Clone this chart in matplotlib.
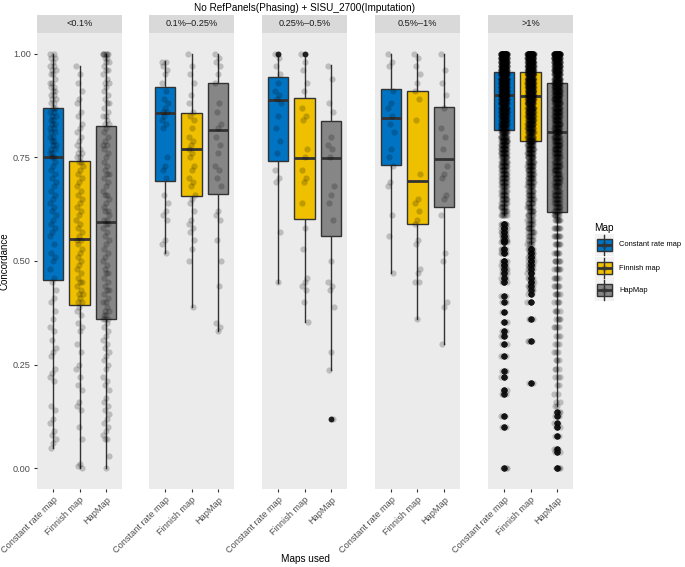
import numpy as np
import matplotlib
matplotlib.use("Agg")
import matplotlib.pyplot as plt
from matplotlib.patches import Rectangle

plt.rcParams['font.family'] = ['Liberation Sans', 'DejaVu Sans']

facets = ["<0.1%", "0.1%\u20130.25%", "0.25%\u20130.5%", "0.5%\u20131%", ">1%"]
maps = ["Constant rate map", "Finnish map", "HapMap"]
colors = ["#0073C2", "#EFC000", "#868686"]

# box stats: (median, q1, q3, whisker low, whisker high)
stats = [
    [(0.750, 0.455, 0.870, 0.05, 1.0), (0.552, 0.393, 0.742, 0.0, 0.97), (0.593, 0.359, 0.826, 0.0, 1.0)],
    [(0.858, 0.694, 0.920, 0.52, 0.983), (0.771, 0.658, 0.856, 0.39, 1.0), (0.815, 0.662, 0.930, 0.33, 1.0)],
    [(0.889, 0.742, 0.945, 0.448, 0.998), (0.749, 0.602, 0.894, 0.354, 0.995), (0.749, 0.561, 0.838, 0.236, 0.973)],
    [(0.846, 0.732, 0.916, 0.47, 1.0), (0.694, 0.590, 0.911, 0.361, 1.0), (0.747, 0.631, 0.872, 0.299, 1.0)],
    [(0.901, 0.817, 0.957, 0.61, 1.0), (0.899, 0.790, 0.957, 0.54, 1.0), (0.812, 0.617, 0.930, 0.15, 1.0)],
]

# individual points, <0.1%
p1_const = [1.0, 1.0, 0.99, 0.99, 0.98, 0.97, 0.97, 0.96, 0.96, 0.95, 0.95, 0.94, 0.93, 0.93, 0.92, 0.92, 0.91,
            0.91, 0.90, 0.90, 0.89, 0.89, 0.88, 0.88, 0.87, 0.87, 0.86, 0.86, 0.85, 0.85, 0.84, 0.84, 0.83, 0.83,
            0.82, 0.82, 0.81, 0.81, 0.80, 0.80, 0.79, 0.79, 0.78, 0.78, 0.77, 0.77, 0.76, 0.76, 0.75, 0.75, 0.74,
            0.73, 0.72, 0.71, 0.70, 0.69, 0.68, 0.67, 0.66, 0.65, 0.64, 0.63, 0.62, 0.61, 0.60, 0.59, 0.58, 0.57,
            0.56, 0.54, 0.52, 0.51, 0.50, 0.48, 0.46, 0.45, 0.43, 0.41, 0.40, 0.38, 0.36, 0.34, 0.33, 0.31, 0.29,
            0.28, 0.27, 0.24, 0.23, 0.22, 0.21, 0.15, 0.14, 0.12, 0.11, 0.09, 0.08, 0.07, 0.06, 0.05]
p1_finn = [0.97, 0.95, 0.93, 0.91, 0.89, 0.88, 0.86, 0.85, 0.83, 0.82, 0.81, 0.80, 0.79, 0.78, 0.77, 0.76, 0.76,
           0.75, 0.75, 0.74, 0.74, 0.73, 0.72, 0.71, 0.70, 0.69, 0.68, 0.67, 0.66, 0.65, 0.64, 0.63, 0.62, 0.61,
           0.60, 0.59, 0.58, 0.57, 0.56, 0.55, 0.55, 0.54, 0.53, 0.52, 0.51, 0.50, 0.49, 0.48, 0.47, 0.46, 0.45,
           0.45, 0.44, 0.43, 0.42, 0.42, 0.41, 0.40, 0.40, 0.39, 0.38, 0.37, 0.35, 0.34, 0.33, 0.30, 0.28, 0.25,
           0.24, 0.22, 0.20, 0.19, 0.16, 0.15, 0.14, 0.10, 0.07, 0.01, 0.005, 0.0]
p1_hap = [1.0, 1.0, 1.0, 1.0, 1.0, 1.0, 0.99, 0.99, 0.98, 0.98, 0.97, 0.96, 0.96, 0.95, 0.94, 0.93, 0.93, 0.92,
          0.91, 0.90, 0.89, 0.88, 0.88, 0.87, 0.86, 0.85, 0.85, 0.84, 0.83, 0.83, 0.82, 0.81, 0.80, 0.79, 0.78,
          0.78, 0.77, 0.76, 0.75, 0.74, 0.73, 0.72, 0.71, 0.71, 0.70, 0.69, 0.68, 0.67, 0.66, 0.66, 0.65, 0.64,
          0.63, 0.62, 0.62, 0.61, 0.60, 0.60, 0.59, 0.59, 0.58, 0.57, 0.56, 0.55, 0.54, 0.53, 0.52, 0.51, 0.50,
          0.49, 0.48, 0.47, 0.47, 0.46, 0.45, 0.44, 0.43, 0.43, 0.42, 0.41, 0.40, 0.40, 0.39, 0.38, 0.38, 0.37,
          0.37, 0.36, 0.36, 0.36, 0.35, 0.34, 0.33, 0.32, 0.31, 0.30, 0.29, 0.28, 0.27, 0.26, 0.25, 0.24, 0.22,
          0.21, 0.20, 0.19, 0.17, 0.16, 0.15, 0.14, 0.13, 0.12, 0.11, 0.10, 0.09, 0.08, 0.07, 0.07, 0.03, 0.0]

# 0.1%-0.25%
p2_const = [0.98, 0.98, 0.97, 0.96, 0.95, 0.93, 0.91, 0.89, 0.88, 0.87, 0.86, 0.86, 0.85, 0.84, 0.83, 0.82,
            0.75, 0.73, 0.72, 0.70, 0.66, 0.64, 0.62, 0.61, 0.60, 0.55, 0.54, 0.52]
p2_finn = [1.0, 0.97, 0.95, 0.93, 0.90, 0.88, 0.86, 0.85, 0.84, 0.82, 0.80, 0.79, 0.78, 0.77, 0.76, 0.75, 0.73,
           0.72, 0.70, 0.69, 0.68, 0.66, 0.65, 0.64, 0.62, 0.60, 0.59, 0.58, 0.57, 0.55, 0.53, 0.50, 0.39]
p2_hap = [1.0, 0.99, 0.98, 0.97, 0.95, 0.93, 0.88, 0.86, 0.83, 0.82, 0.80, 0.78, 0.76, 0.73, 0.72, 0.70, 0.68,
          0.62, 0.61, 0.60, 0.55, 0.50, 0.44, 0.35, 0.34, 0.33]

# 0.25%-0.5%
p3_const = [1.0, 0.99, 0.97, 0.95, 0.93, 0.91, 0.90, 0.89, 0.88, 0.85, 0.82, 0.79, 0.76, 0.72, 0.70, 0.69,
            0.57, 0.45]
p3_finn = [1.0, 0.98, 0.96, 0.93, 0.91, 0.87, 0.85, 0.84, 0.77, 0.75, 0.72, 0.70, 0.69, 0.64, 0.58, 0.53, 0.46,
           0.45, 0.44, 0.43, 0.40, 0.354]
p3_hap = [0.97, 0.94, 0.88, 0.86, 0.80, 0.78, 0.77, 0.75, 0.68, 0.66, 0.64, 0.60, 0.50, 0.45, 0.44, 0.43, 0.39,
          0.28, 0.236, 0.118]

# 0.5%-1%
p4_const = [1.0, 0.98, 0.97, 0.91, 0.88, 0.87, 0.85, 0.83, 0.81, 0.77, 0.75, 0.73, 0.69, 0.68, 0.61, 0.56, 0.47]
p4_finn = [1.0, 0.99, 0.97, 0.95, 0.93, 0.91, 0.89, 0.84, 0.71, 0.65, 0.64, 0.62, 0.60, 0.59, 0.55, 0.54, 0.48,
           0.47, 0.45, 0.45, 0.361]
p4_hap = [1.0, 0.96, 0.93, 0.90, 0.87, 0.82, 0.80, 0.77, 0.73, 0.71, 0.70, 0.66, 0.65, 0.61, 0.52, 0.50, 0.40,
          0.39, 0.299]

# >1%: too many points to list one by one, so value + how many points sit there
p5_const_vals = [1.00, 0.99, 0.98, 0.97, 0.96, 0.95, 0.94, 0.93, 0.92, 0.91, 0.90, 0.89, 0.88, 0.87, 0.86, 0.85,
                 0.84, 0.83, 0.82, 0.81, 0.80, 0.79, 0.78, 0.77, 0.76, 0.75, 0.74, 0.73, 0.72, 0.71, 0.70, 0.69,
                 0.68, 0.67, 0.66, 0.65, 0.64, 0.63, 0.62, 0.61,
                 0.59, 0.58, 0.57, 0.56, 0.55, 0.545, 0.53, 0.52, 0.50, 0.49, 0.48, 0.47, 0.46, 0.45, 0.415,
                 0.40, 0.376, 0.354, 0.33, 0.318, 0.30, 0.27, 0.234, 0.22, 0.19, 0.178, 0.125, 0.10, 0.0]
p5_const_cnt = [60, 40, 40, 40, 40, 38, 36, 35, 34, 33, 32, 30, 28, 26, 24, 22, 20, 20, 18, 18, 16, 16, 14, 14,
                13, 12, 12, 11, 10, 10, 10, 9, 9, 8, 8, 8, 7, 7, 7, 6,
                6, 6, 5, 5, 5, 5, 5, 5, 5, 5, 4, 4, 4, 4, 3, 3, 3, 3, 3, 3, 3, 3, 3, 3, 3, 3, 3, 3, 3]
p5_finn_vals = [1.00, 0.99, 0.98, 0.97, 0.96, 0.95, 0.94, 0.93, 0.92, 0.91, 0.90, 0.89, 0.88, 0.87, 0.86, 0.85,
                0.84, 0.83, 0.82, 0.81, 0.80, 0.79, 0.78, 0.77, 0.76, 0.75, 0.74, 0.73, 0.72, 0.71, 0.70, 0.69,
                0.68, 0.67, 0.66, 0.65, 0.64, 0.63, 0.62, 0.61, 0.60, 0.59, 0.58, 0.57, 0.56, 0.55, 0.54,
                0.53, 0.52, 0.51, 0.50, 0.49, 0.48, 0.47, 0.46, 0.45, 0.44, 0.43, 0.42, 0.40, 0.36, 0.306, 0.205]
p5_finn_cnt = [60, 40, 40, 40, 40, 38, 36, 35, 34, 33, 32, 30, 28, 26, 24, 22, 20, 20, 18, 18, 16, 16, 14, 14,
               13, 12, 12, 11, 10, 10, 10, 9, 9, 8, 8, 8, 7, 7, 7, 6, 6, 6, 6, 6, 5, 5, 5,
               5, 5, 5, 5, 5, 4, 4, 4, 4, 4, 3, 3, 3, 3, 3, 3]
p5_hap_vals = [1.00, 0.99, 0.98, 0.97, 0.96, 0.95, 0.94, 0.93, 0.92, 0.91, 0.90, 0.89, 0.88, 0.87, 0.86, 0.85,
               0.84, 0.83, 0.82, 0.81, 0.80, 0.79, 0.78, 0.77, 0.76, 0.75, 0.74, 0.73, 0.72, 0.71, 0.70, 0.69,
               0.68, 0.67, 0.66, 0.65, 0.64, 0.63, 0.62, 0.61, 0.60, 0.58, 0.56, 0.54, 0.52, 0.50, 0.48, 0.46,
               0.44, 0.42, 0.40, 0.38, 0.36, 0.34, 0.32, 0.30, 0.28, 0.26, 0.24, 0.22, 0.20, 0.18, 0.16, 0.15,
               0.135, 0.125, 0.11, 0.10, 0.077, 0.046, 0.04, 0.0]
p5_hap_cnt = [60, 35, 30, 28, 28, 26, 25, 24, 22, 21, 20, 19, 18, 17, 16, 15, 15, 14, 14, 13, 13, 12, 12, 12,
              11, 11, 10, 10, 10, 9, 9, 9, 9, 8, 8, 8, 8, 7, 7, 7, 7, 7, 7, 6, 6, 6, 6, 5, 5, 5, 4, 4, 4, 4,
              3, 3, 3, 3, 3, 3, 2, 2, 2, 2, 3, 3, 3, 3, 3, 3, 3, 4]

points = [
    [p1_const, p1_finn, p1_hap],
    [p2_const, p2_finn, p2_hap],
    [p3_const, p3_finn, p3_hap],
    [p4_const, p4_finn, p4_hap],
    [list(np.repeat(p5_const_vals, p5_const_cnt)), list(np.repeat(p5_finn_vals, p5_finn_cnt)),
     list(np.repeat(p5_hap_vals, p5_hap_cnt))],
]

W, H = 685, 567
fig = plt.figure(figsize=(W / 100, H / 100), dpi=100)

panel_left = [37, 149, 262, 375, 488]
panel_w = 85
panel_top, panel_bot, strip_top = 33, 489, 15
dark = "#333333"
boxw = 0.78
jit = 0.12

for f, name in enumerate(facets):
    x0 = panel_left[f]
    ax = fig.add_axes([x0 / W, 1 - panel_bot / H, panel_w / W, (panel_bot - panel_top) / H])
    ax.set_facecolor("#EBEBEB")
    for s in ax.spines.values():
        s.set_visible(False)
    for m in range(3):
        med, q1, q3, lo, hi = stats[f][m]
        x = m + 1
        ax.plot([x, x], [hi, q3], color=dark, lw=1.0, zorder=2)
        ax.plot([x, x], [q1, lo], color=dark, lw=1.0, zorder=2)
        ax.add_patch(Rectangle((x - boxw / 2, q1), boxw, q3 - q1, facecolor=colors[m],
                               edgecolor=dark, lw=1.0, zorder=2))
        ax.plot([x - boxw / 2, x + boxw / 2], [med, med], color=dark, lw=2.0, zorder=2,
                solid_capstyle="butt")
        y = np.array(points[f][m], dtype=float)
        # deterministic horizontal spread
        offs = ((np.arange(len(y)) * 0.6180339887) % 1 - 0.5) * 2 * jit
        out = (y < lo - 1e-9) | (y > hi + 1e-9)
        ax.scatter(np.full(out.sum(), x), y[out], s=18, color="#222222", lw=0, zorder=3)
        ax.scatter(x + offs, y, s=20, color="black", alpha=0.2, lw=0, zorder=4)
    ax.set_xlim(0.4, 3.6)
    ax.set_ylim(-0.05, 1.05)
    ax.set_xticks([1, 2, 3])
    ax.set_xticklabels(maps, rotation=45, ha="right", va="top", rotation_mode="anchor",
                       fontsize=6.6, color="#4D4D4D")
    ax.tick_params(axis="x", length=2.5, width=0.8, color=dark, pad=2)
    if f == 0:
        ax.set_yticks([0, 0.25, 0.5, 0.75, 1.0])
        ax.set_yticklabels(["0.00", "0.25", "0.50", "0.75", "1.00"], fontsize=6.6, color="#4D4D4D")
        ax.tick_params(axis="y", length=2.5, width=0.8, color=dark, pad=2)
    else:
        ax.set_yticks([])
    # facet strip
    sax = fig.add_axes([x0 / W, 1 - panel_top / H, panel_w / W, (panel_top - strip_top) / H])
    sax.set_facecolor("#D9D9D9")
    sax.set_xticks([])
    sax.set_yticks([])
    for s in sax.spines.values():
        s.set_visible(False)
    sax.text(0.5, 0.5, name, ha="center", va="center", fontsize=6.6, color="#1A1A1A",
             transform=sax.transAxes)

fig.text(305 / W, 1 - 8 / H, "No RefPanels(Phasing) + SISU_2700(Imputation)", ha="center", va="center",
         fontsize=7.2, color="black")
fig.text(305 / W, 1 - 559 / H, "Maps used", ha="center", va="center", fontsize=7.2)
fig.text(5 / W, 1 - 261 / H, "Concordance", ha="center", va="center", rotation=90, fontsize=7.0)

# legend
lax = fig.add_axes([0, 0, 1, 1], facecolor="none")
lax.set_xlim(0, W)
lax.set_ylim(H, 0)
lax.axis("off")
lax.text(594, 228, "Map", ha="left", va="center", fontsize=7.2)
key_y = [245, 268, 290]
for m in range(3):
    yc = key_y[m]
    lax.add_patch(Rectangle((595, yc - 11), 19, 22, facecolor="#F2F2F2", edgecolor="none"))
    lax.plot([604.5, 604.5], [yc - 10, yc + 10], color=dark, lw=1.0)
    lax.add_patch(Rectangle((597, yc - 6), 15, 12, facecolor=colors[m], edgecolor=dark, lw=1.0))
    lax.plot([597, 612], [yc, yc], color=dark, lw=2.0, solid_capstyle="butt")
    lax.scatter([604.5], [yc], s=20, color="black", alpha=0.2, lw=0)
    lax.text(619, yc, maps[m], ha="left", va="center", fontsize=5.4)

fig.savefig("out.png", dpi=100)
